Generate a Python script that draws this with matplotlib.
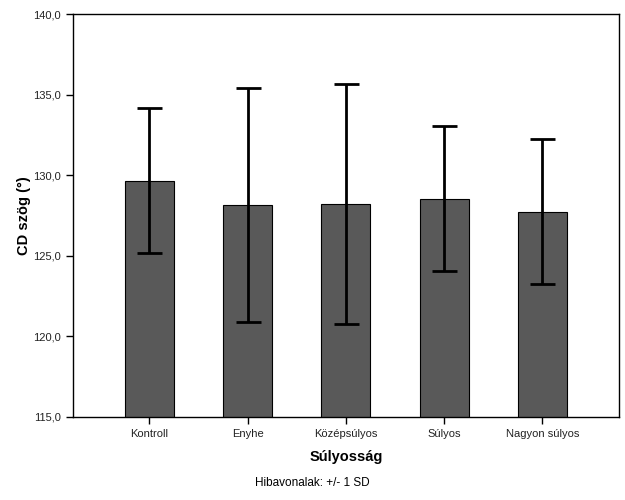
import numpy as np
import matplotlib
matplotlib.use('Agg')
import matplotlib.pyplot as plt
from matplotlib.ticker import FuncFormatter

plt.rcParams['font.family'] = ['Liberation Sans', 'DejaVu Sans']

# Data
categories = ['Kontroll', 'Enyhe', 'Középsúlyos', 'Súlyos', 'Nagyon súlyos']
means = [129.65, 128.15, 128.2, 128.54, 127.73]
sds = [4.51, 7.27, 7.47, 4.5, 4.5]
yticks = [115, 120, 125, 130, 135, 140]

fig = plt.figure(figsize=(6.25, 5), dpi=100)
ax = fig.add_axes([0.1168, 0.1666, 0.8736, 0.8054])

x = np.arange(len(categories))
ax.bar(x, means, width=0.5, color='#595959', edgecolor='black', linewidth=0.8, zorder=2)
ax.errorbar(x, means, yerr=sds, fmt='none', ecolor='black', elinewidth=2,
            capsize=9, capthick=2, zorder=3)

ax.set_xlim(-0.776, 4.78)
ax.set_ylim(115, 140)
ax.set_yticks(yticks)
ax.yaxis.set_major_formatter(FuncFormatter(lambda v, p: f"{v:.1f}".replace('.', ',')))
ax.set_xticks(x)
ax.set_xticklabels(categories)
ax.tick_params(axis='both', labelsize=8, length=5, width=1, direction='out', labelcolor='#222222')

for s in ax.spines.values():
    s.set_linewidth(1)
    s.set_color('black')

ax.set_xlabel('Súlyosság', fontsize=10.5, fontweight='bold', labelpad=8)
ax.set_ylabel('CD szög (°)', fontsize=10.5, fontweight='bold', labelpad=2)

fig.text(0.5, 0.035, 'Hibavonalak: +/- 1 SD', ha='center', va='center', fontsize=8.5)

fig.savefig('out.png', dpi=100)
